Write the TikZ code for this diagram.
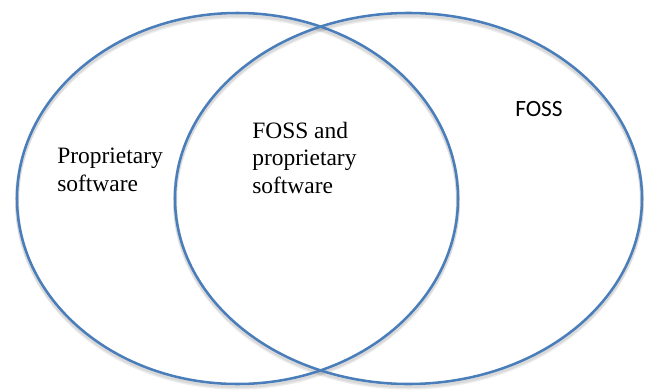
\documentclass[tikz,border=0pt]{standalone}
\usepackage{fontspec}
\setmainfont{Liberation Serif}
\newfontfamily\calibrifont{Carlito}
\definecolor{setblue}{HTML}{4A7EBB}
\tikzset{
    setline/.style={draw=setblue, line width=1.9pt},
    setshadow/.style={draw=black, line width=3pt, opacity=0.08},
    lbl/.style={inner sep=0pt, align=left, anchor=base west,
        font=\fontsize{17.6}{20.6}\selectfont}
}
\begin{document}
\begin{tikzpicture}[x=0.75pt, y=-0.75pt]
    \useasboundingbox (0,0) rectangle (648,389);

    % Ombre legere sous les cercles
    \foreach \d in {2,3.5} {
        \draw[setshadow] (237.5,198.5+\d) ellipse (220.5 and 185.5);
        \draw[setshadow] (408.5,198.5+\d) ellipse (233.5 and 185.5);
    }

    % Les deux ensembles
    \draw[setline] (237.5,198.5) ellipse (220.5 and 185.5);
    \draw[setline] (408.5,198.5) ellipse (233.5 and 185.5);

    % Etiquettes (ancre sur la ligne de base de la derniere ligne)
    \node[lbl] (prop) at (57,191) {Proprietary\\software};
    \node[lbl] (both) at (252,193) {FOSS and\\proprietary\\software};
    \node[inner sep=0pt, anchor=base west, font=\calibrifont\fontsize{17.5}{21}\selectfont]
        (foss) at (515,116) {FOSS};
\end{tikzpicture}
\end{document}
